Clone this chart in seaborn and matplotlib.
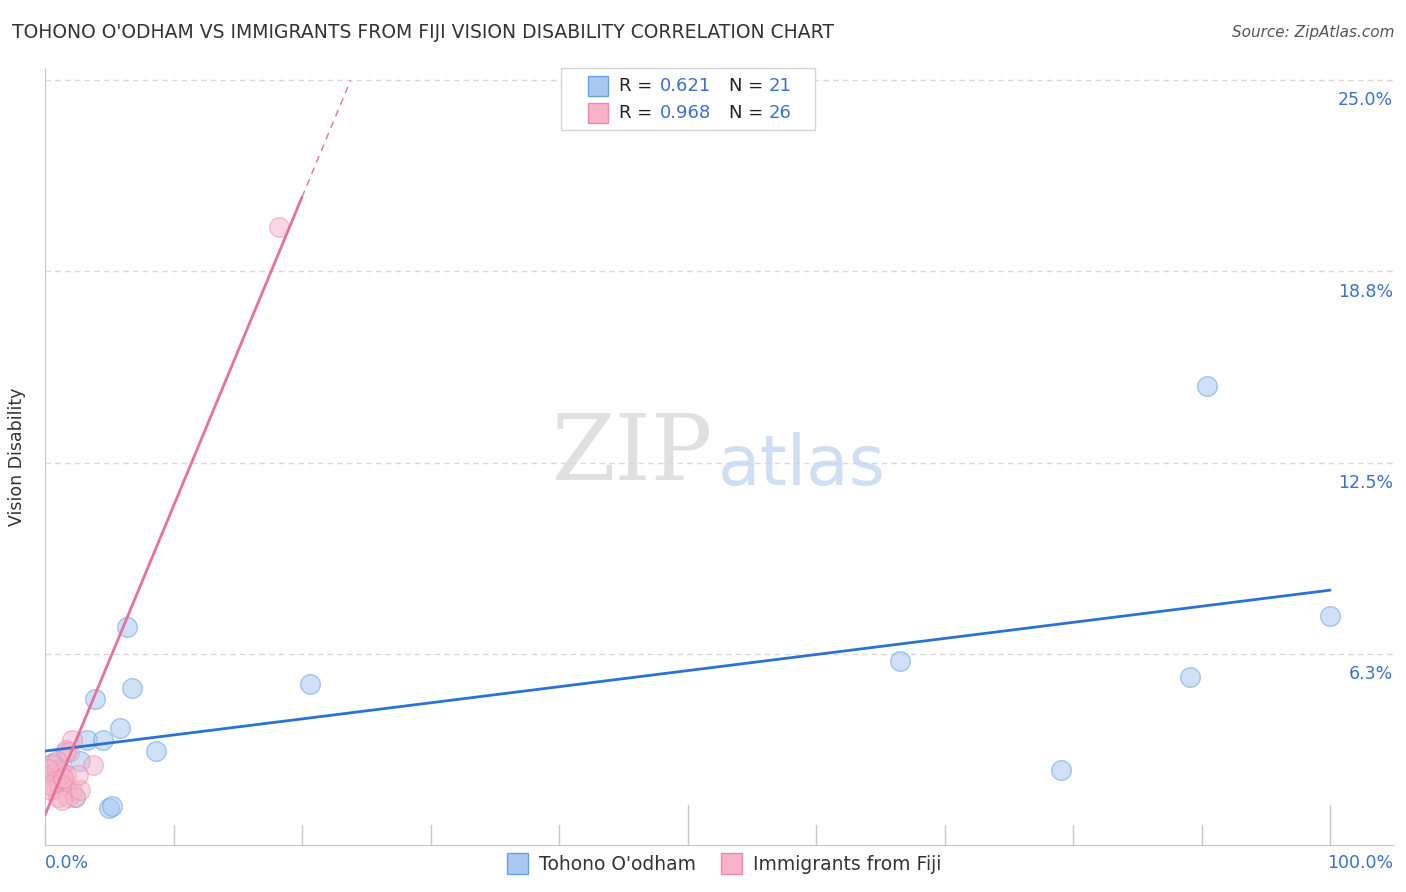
import matplotlib
matplotlib.use("Agg")
import matplotlib.pyplot as plt
import numpy as np
import pandas as pd
import seaborn as sns
from matplotlib.patches import Rectangle

# Data (percent)
tohono_x = [90.4, 100.0, 66.5, 89.1, 79.1, 20.6, 6.4, 6.8, 3.9, 5.8, 3.3,
            4.5, 8.6, 2.7, 5.0, 5.2, 2.3, 0.6, 1.6, 0.3, 1.1]
tohono_y = [15.0, 7.48, 6.01, 5.49, 2.45, 5.26, 7.12, 5.13, 4.77, 3.82, 3.43,
            3.43, 3.07, 2.75, 1.21, 1.27, 1.57, 2.68, 3.04, 2.3, 2.5]
fiji_x = [18.2, 2.1, 1.6, 1.9, 3.7, 0.5, 0.9, 0.4, 1.3, 1.6, 0.8, 0.2, 1.2,
          1.6, 2.1, 0.5, 1.0, 1.8, 2.3, 1.3, 2.7, 2.6, 0.9, 0.2, 0.4, 1.4]
fiji_y = [20.2, 3.43, 3.1, 3.04, 2.6, 2.6, 2.45, 2.3, 2.4, 2.3, 2.1, 2.05, 2.0,
          1.9, 1.8, 1.8, 1.57, 1.57, 1.57, 1.47, 1.8, 2.3, 2.75, 2.5, 1.95, 2.2]

# Trend lines: intercept, slope
tohono_fit = (3.07, 0.0526)
fiji_fit = (0.98, 1.01)
fiji_solid_end = 20.0

r_values = ["0.621", "0.968"]
n_values = ["21", "26"]
series_names = ["Tohono O'odham", "Immigrants from Fiji"]
y_ticks = [6.25, 12.5, 18.75, 25.0]
y_tick_labels = ["6.3%", "12.5%", "18.8%", "25.0%"]

blue_fill, blue_edge, blue_line = "#a9c9f2", "#6b9fe0", "#2a73d6"
pink_fill, pink_edge, pink_line = "#f7b3c8", "#e98aaa", "#e8719c"
label_blue = "#3a72cc"

df = pd.concat([
    pd.DataFrame({"x": tohono_x, "y": tohono_y, "group": series_names[0]}),
    pd.DataFrame({"x": fiji_x, "y": fiji_y, "group": series_names[1]}),
])

sns.set_style("white")
plt.rcParams["font.family"] = ["DejaVu Sans"]

W, H = 1406, 892
fig = plt.figure(figsize=(W / 100, H / 100), dpi=100)
ax = fig.add_axes([45 / W, (H - 845) / H, (1393 - 45) / W, (845 - 68) / H])

xmin, xmax = 0, 104.9
ymin, ymax = 0, 25.4
ax.set_xlim(xmin, xmax)
ax.set_ylim(ymin, ymax)

for v in y_ticks:
    ax.axhline(v, color="#d8d8d8", lw=1, ls=(0, (4, 3)), zorder=0)

sns.scatterplot(data=df[df.group == series_names[0]], x="x", y="y", ax=ax,
                s=200, color=blue_fill, edgecolor=blue_edge, linewidth=1,
                alpha=0.55, legend=False, zorder=3)
sns.scatterplot(data=df[df.group == series_names[1]], x="x", y="y", ax=ax,
                s=200, color=pink_fill, edgecolor=pink_edge, linewidth=1,
                alpha=0.5, legend=False, zorder=3)

bx = np.array([0, 100])
ax.plot(bx, tohono_fit[0] + tohono_fit[1] * bx, color=blue_line, lw=2, zorder=4)
px = np.array([0, fiji_solid_end])
ax.plot(px, fiji_fit[0] + fiji_fit[1] * px, color=pink_line, lw=2, zorder=4)
top_x = (ymax - 0.4 - fiji_fit[0]) / fiji_fit[1]
pdx = np.array([fiji_solid_end, top_x])
ax.plot(pdx, fiji_fit[0] + fiji_fit[1] * pdx, color=pink_line, lw=1,
        ls=(0, (5, 4)), zorder=4)

# axes styling
for s in ["top", "right"]:
    ax.spines[s].set_visible(False)
ax.spines["left"].set_color("#c8c8c8")
ax.spines["bottom"].set_color("#c8c8c8")
ax.set_xticks([])
ax.set_yticks([])
ax.set_xlabel("")
for t in range(0, 101, 10):
    h = 1.3 if t in (50, 100) else 0.65
    ax.plot([t, t], [0, h], color="#c8c8c8", lw=1, clip_on=False, zorder=1)

for v, lab in zip(y_ticks, y_tick_labels):
    ax.annotate(lab, xy=(1, v), xycoords=("axes fraction", "data"),
                xytext=(0, -8), textcoords="offset points", ha="right",
                va="top", fontsize=12.5, color=label_blue)

ax.set_ylabel("Vision Disability", fontsize=12.5, color="#333333", labelpad=14)
fig.text(45 / W, 1 - 863 / H, "0.0%", ha="left", va="center",
         fontsize=12.5, color=label_blue)
fig.text(1393 / W, 1 - 863 / H, "100.0%", ha="right", va="center",
         fontsize=12.5, color=label_blue)

# title and source
fig.text(12 / W, 1 - 33 / H, "TOHONO O'ODHAM VS IMMIGRANTS FROM FIJI VISION DISABILITY CORRELATION CHART",
         ha="left", va="center", fontsize=13.5, color="#333333")
fig.text(1394 / W, 1 - 33 / H, "Source: ZipAtlas.com", ha="right", va="center",
         fontsize=11, color="#555555", style="italic")

# watermark
fig.text(713 / W, 1 - 455 / H, "ZIP", ha="right", va="center", fontsize=66,
         family="DejaVu Serif", color="#d9d9d9", alpha=0.8)
fig.text(718 / W, 1 - 465 / H, "atlas", ha="left", va="center", fontsize=50,
         color="#c3d6f0", alpha=0.8)

# top legend box
fig.patches.append(Rectangle((561 / W, 1 - 130 / H), (815 - 561) / W, 62 / H,
                             transform=fig.transFigure, facecolor="white",
                             edgecolor="#d5d5d5", lw=1, zorder=5))
for i, (fc, ec) in enumerate([(blue_fill, blue_edge), (pink_fill, pink_edge)]):
    yc = [86, 113][i]
    fig.patches.append(Rectangle((588 / W, 1 - (yc + 10) / H), 20 / W, 20 / H,
                                 transform=fig.transFigure, facecolor=fc,
                                 edgecolor=ec, lw=1, zorder=6))
    fig.text(619 / W, 1 - yc / H, "R =", ha="left", va="center",
             fontsize=13, color="#222222", zorder=7)
    fig.text(711 / W, 1 - yc / H, r_values[i], ha="right", va="center",
             fontsize=13, color=label_blue, zorder=7)
    fig.text(729 / W, 1 - yc / H, "N =", ha="left", va="center",
             fontsize=13, color="#222222", zorder=7)
    fig.text(791 / W, 1 - yc / H, n_values[i], ha="right", va="center",
             fontsize=13, color=label_blue, zorder=7)

# bottom legend
for i, (fc, ec) in enumerate([(blue_fill, blue_edge), (pink_fill, pink_edge)]):
    x0 = [507, 721][i]
    fig.patches.append(Rectangle((x0 / W, 1 - 874 / H), 21 / W, 21 / H,
                                 transform=fig.transFigure, facecolor=fc,
                                 edgecolor=ec, lw=1))
    fig.text((x0 + 32) / W, 1 - 864 / H, series_names[i], ha="left",
             va="center", fontsize=13.5, color="#333333")

fig.savefig("out.png", dpi=100)
